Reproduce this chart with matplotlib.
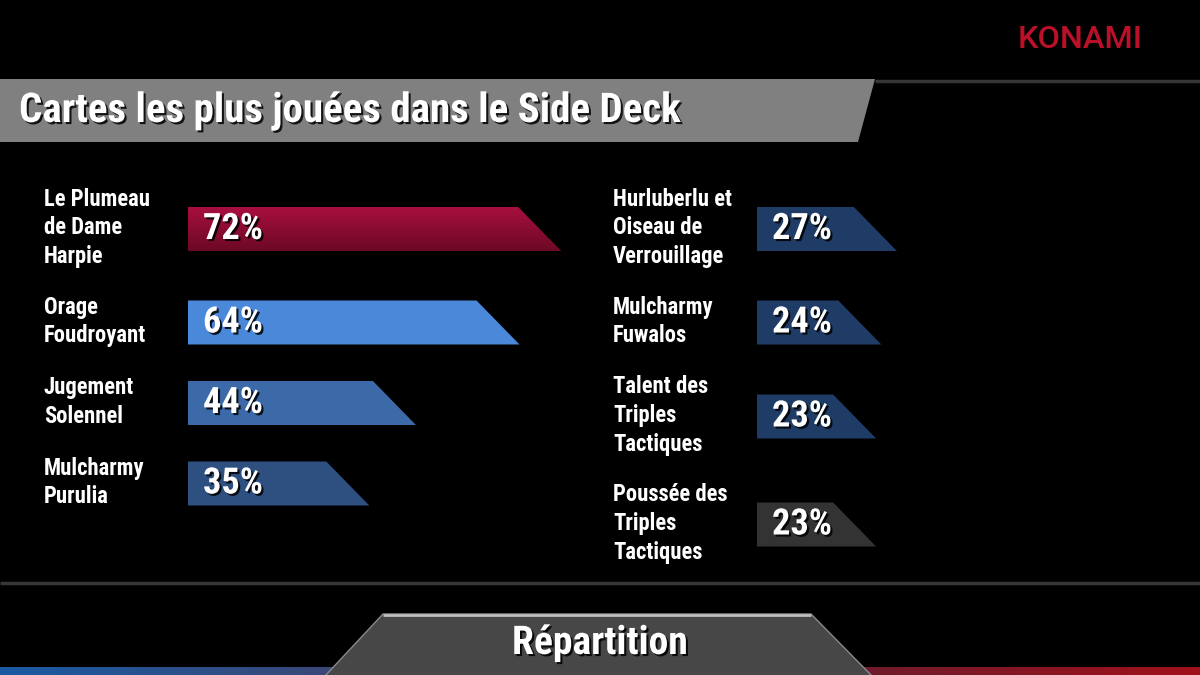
#!/usr/bin/env python
# -*- coding: utf-8 -*-

""" Side deck usage chart - most played side deck cards """

import numpy as np
import matplotlib
matplotlib.use("Agg")
import matplotlib.pyplot as plt
import matplotlib.patheffects as pe
from matplotlib import font_manager
from matplotlib.colors import to_rgb
from matplotlib.font_manager import FontProperties
from matplotlib.patches import Polygon
from matplotlib.textpath import TextPath

# Data
title = "Cartes les plus jouées dans le Side Deck"
footer = "Répartition"
left_names = ["Le Plumeau\nde Dame\nHarpie", "Orage\nFoudroyant", "Jugement\nSolennel", "Mulcharmy\nPurulia"]
left_pct = [72, 64, 44, 35]
right_names = ["Hurluberlu et\nOiseau de\nVerrouillage", "Mulcharmy\nFuwalos",
               "Talent des\nTriples\nTactiques", "Poussée des\nTriples\nTactiques"]
right_pct = [27, 24, 23, 23]

# Layout (pixels, figure is 1200x675)
W, H = 1200, 675
PX_PER_PCT = 5.18
SLANT = 43
BAR_H = 44
left_rows = [229, 322.5, 403, 483.5]
right_rows = [229, 322.5, 416.5, 524.5]
left_colors = ["#9c0c36", "#4a88d9", "#3c6aa8", "#2d5080"]
right_colors = ["#1f3c66", "#1f3c66", "#1f3c66", "#333333"]


def _weight(f) -> int:
    w = f.weight
    if isinstance(w, int):
        return w
    return font_manager.weight_dict.get(w, 400)


def find_font(target_weight: int, condensed: bool = True) -> FontProperties:
    """ Look for a (condensed) sans font among the installed ones """
    prefs = ["Roboto Condensed", "Open Sans Condensed", "Noto Sans", "Noto Sans Condensed",
             "Open Sans", "Roboto", "Liberation Sans Narrow", "Inter", "Lato", "DejaVu Sans"]
    best = None
    for f in font_manager.fontManager.ttflist:
        if f.name not in prefs or f.style != "normal":
            continue
        st = str(f.stretch)
        if condensed:
            cond_rank = {"extra-condensed": 1, "condensed": 0, "semi-condensed": 2}.get(st, 5)
            if "Narrow" in f.name or "Condensed" in f.name:
                cond_rank = min(cond_rank, 0)
        else:
            cond_rank = 0 if st == "normal" and "Condensed" not in f.name else 5
        score = (cond_rank, abs(_weight(f) - target_weight), prefs.index(f.name))
        if best is None or score < best[0]:
            best = (score, f)
    if best is None:
        return FontProperties(family="DejaVu Sans", weight=target_weight)
    return FontProperties(fname=best[1].fname)


def fit_size(text: str, fp: FontProperties, target_px: float) -> float:
    """ Font size (pt) so that the inked width of text is target_px at 100 dpi """
    w = TextPath((0, 0), text, size=100, prop=fp).get_extents().width
    return 100 * target_px * 0.72 / w


bold = find_font(700)
logo_font = find_font(500, condensed=False)

shadow = [pe.SimplePatchShadow(offset=(1.5, -1.5), shadow_rgbFace="black", alpha=0.85), pe.Normal()]

fig = plt.figure(figsize=(12, 6.75), dpi=100, facecolor="black")
bg = fig.add_axes([0, 0, 1, 1])
bg.set_xlim(0, W)
bg.set_ylim(H, 0)
bg.axis("off")
bg.set_facecolor("black")

# Title band
bg.add_patch(Polygon([(0, 79), (875, 79), (858, 142), (0, 142)], closed=True, color="#808080", lw=0))
bg.plot([875, W], [80.5, 80.5], color="#363636", lw=2.5, solid_capstyle="butt")
bg.text(19, 111, title, color="white", fontproperties=bold, fontsize=fit_size(title, bold, 660),
        va="center", ha="left", path_effects=shadow)

# Logo
bg.text(1142, 40, "KONAMI", color="#bb1029", fontproperties=logo_font,
        fontsize=fit_size("KONAMI", logo_font, 120), va="center", ha="right")

# Separator line
bg.plot([0, W], [583, 583], color="#363636", lw=2.5, solid_capstyle="butt")

# Bottom gradient strips
grad = np.linspace(0, 1, 256)[None, :]
blue = np.array([to_rgb("#1a5aa2"), to_rgb("#3b4876")])
red = np.array([to_rgb("#6e1c2c"), to_rgb("#a0101a")])
bg.imshow(blue[0] + (blue[1] - blue[0]) * grad[..., None], extent=[0, 340, 675, 667], aspect="auto", zorder=1)
bg.imshow(red[0] + (red[1] - red[0]) * grad[..., None], extent=[860, 1200, 675, 667], aspect="auto", zorder=1)

# Footer tab
tab = Polygon([(325, 676), (383, 614), (811, 614), (872, 676)], closed=True,
              facecolor="#474747", edgecolor="#8a8a8a", lw=1, zorder=2)
bg.add_patch(tab)
bg.plot([383, 811], [614.5, 614.5], color="#bdbdbd", lw=2, zorder=3, solid_capstyle="butt")
bg.text(600, 643, footer, color="white", fontproperties=bold, fontsize=fit_size(footer, bold, 165) * 1.04,
        va="center", ha="center", path_effects=shadow, zorder=4)

label_size = fit_size("Foudroyant", bold, 93) * 1.08
pct_size = fit_size("72%", bold, 52) * 1.1


def draw_column(x0: float, label_x: float, names: list[str], values: list[int],
                rows: list[float], colors: list[str], width_px: float) -> None:
    """ Draw one column of slanted bars with labels """
    ax = fig.add_axes([x0 / W, 1 - 570 / H, width_px / W, 390 / H])
    ax.set_xlim(0, width_px / PX_PER_PCT)
    ax.set_ylim(570, 180)
    ax.axis("off")
    ax.patch.set_alpha(0)
    slant = SLANT / PX_PER_PCT
    for i, (name, v, yc, c) in enumerate(zip(names, values, rows, colors)):
        top, bot = yc - BAR_H / 2, yc + BAR_H / 2
        poly = Polygon([(0, top), (v - slant, top), (v, bot), (0, bot)], closed=True,
                       facecolor=c, lw=0)
        ax.add_patch(poly)
        if i == 0 and c == left_colors[0]:
            # the first bar has a vertical crimson gradient
            g = np.linspace(0, 1, 64)[:, None, None]
            c1, c2 = np.array(to_rgb("#a80f3e")), np.array(to_rgb("#6c0925"))
            img = ax.imshow(np.repeat(c1 + (c2 - c1) * g, 2, axis=1), extent=[0, v, bot, top],
                            aspect="auto", zorder=2)
            img.set_clip_path(poly)
        ax.annotate(f"{v}%", xy=(0, yc), xytext=(15, 0), textcoords="offset pixels",
                    color="white", fontproperties=bold, fontsize=pct_size,
                    va="center", ha="left", path_effects=shadow, zorder=5)
        bg.text(label_x, yc - 1, name, color="white", fontproperties=bold, fontsize=label_size,
                va="center", ha="left", linespacing=1.33)


draw_column(188, 44, left_names, left_pct, left_rows, left_colors, 414)
draw_column(757, 613, right_names, right_pct, right_rows, right_colors, 400)

fig.savefig("out.png", dpi=100, facecolor="black")
